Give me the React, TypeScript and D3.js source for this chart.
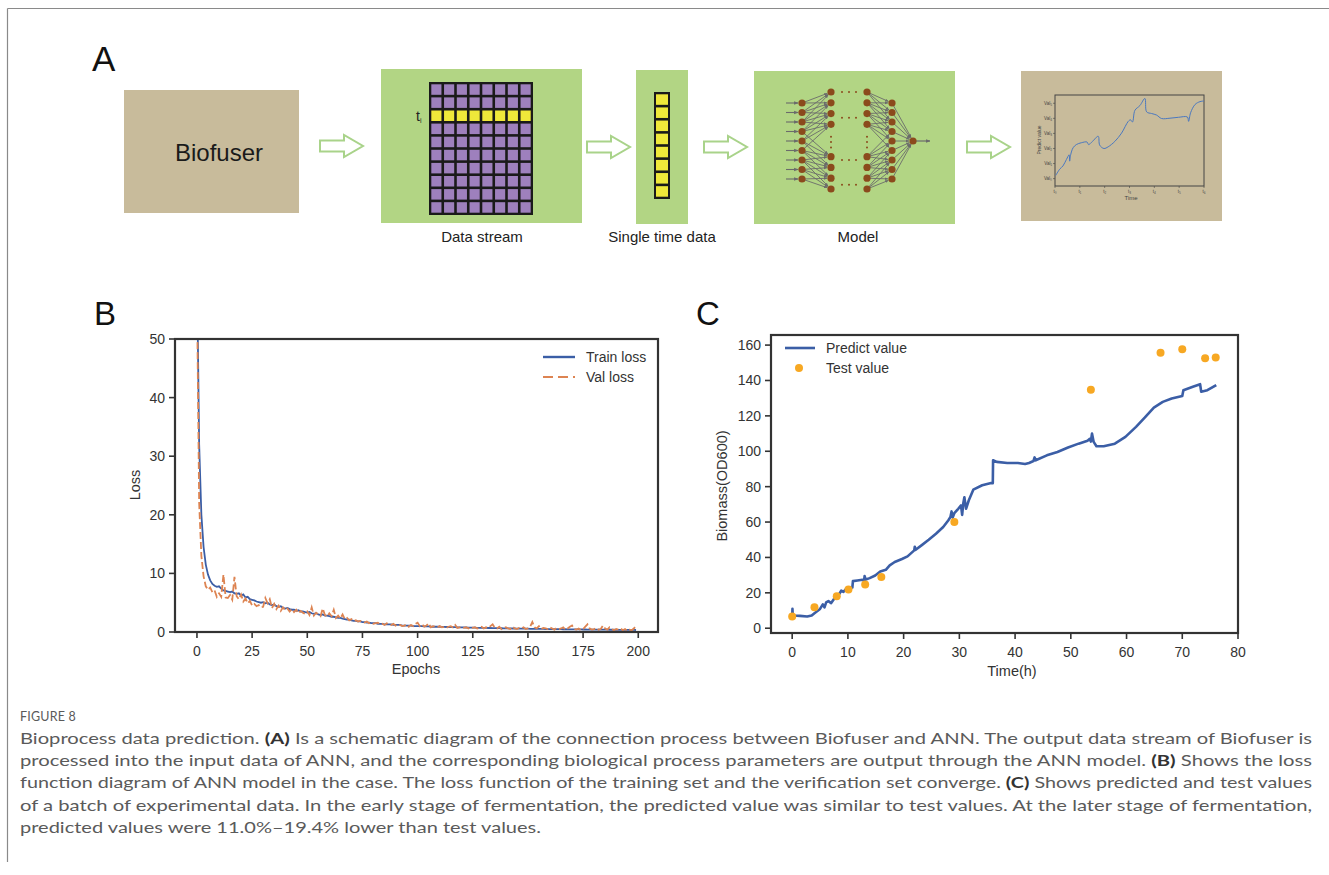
import React from "react";
import * as d3 from "d3";

// ---------- panel B : loss curves (one value per epoch) ----------
const trainLoss = [
  62, 32, 20, 14.5, 11.5, 9.8, 8.8, 8.2, 7.9, 7.7,
  7.8, 7.4, 7.1, 7.0, 6.9, 6.8, 6.9, 6.6, 6.5, 6.6,
  6.2, 6.4, 5.9, 6.0, 5.6, 5.5, 5.4, 5.2, 5.1, 5.0,
  5.1, 4.9, 5.0, 4.7, 4.6, 4.7, 4.4, 4.3, 4.4, 4.1,
  4.0, 4.1, 3.9, 3.8, 3.8, 3.6, 3.7, 3.5, 3.5, 3.4,
  3.3, 3.4, 3.2, 3.1, 3.2, 3.0, 2.9, 3.0, 2.8, 2.8,
  2.7, 2.6, 2.6, 2.5, 2.4, 2.4, 2.3, 2.2, 2.1, 2.1,
  2.0, 1.9, 1.9, 1.8, 1.8, 1.7, 1.7, 1.6, 1.6, 1.5,
  1.5, 1.5, 1.4, 1.4, 1.4, 1.3, 1.3, 1.3, 1.3, 1.2,
  1.2, 1.2, 1.2, 1.1, 1.1, 1.1, 1.1, 1.1, 1.0, 1.0,
  1.0, 1.0, 1.0, 0.95, 0.95, 0.95, 0.9, 0.9, 0.9, 0.9,
  0.9, 0.88, 0.87, 0.85, 0.85, 0.84, 0.83, 0.82, 0.8, 0.8,
  0.8, 0.78, 0.77, 0.76, 0.75, 0.75, 0.74, 0.72, 0.72, 0.7,
  0.7, 0.7, 0.68, 0.68, 0.67, 0.66, 0.66, 0.65, 0.64, 0.63,
  0.62, 0.62, 0.61, 0.6, 0.6, 0.59, 0.58, 0.58, 0.57, 0.56,
  0.56, 0.55, 0.55, 0.54, 0.54, 0.53, 0.52, 0.52, 0.51, 0.5,
  0.5, 0.5, 0.49, 0.49, 0.48, 0.48, 0.47, 0.47, 0.46, 0.46,
  0.45, 0.45, 0.45, 0.44, 0.44, 0.43, 0.43, 0.42, 0.42, 0.42,
  0.41, 0.41, 0.4, 0.4, 0.4, 0.39, 0.39, 0.38, 0.38, 0.38,
  0.37, 0.37, 0.37, 0.36, 0.36, 0.36, 0.35, 0.35, 0.35, 0.34,
];

const valLoss = [
  58, 22, 13, 9.5, 7.8, 7.2, 7.6, 6.8, 7.1, 6.0,
  6.6, 6.0, 9.8, 5.9, 5.8, 6.3, 5.5, 9.4, 6.1, 5.6,
  6.4, 5.2, 5.7, 4.9, 5.3, 4.5, 4.8, 4.4, 4.6, 4.2,
  4.3, 5.8, 4.9, 5.6, 4.1, 4.8, 3.9, 4.5, 3.6, 4.2,
  3.7, 4.0, 3.5, 3.9, 3.4, 3.8, 3.2, 3.6, 3.3, 3.1,
  3.5, 2.9, 4.2, 2.8, 3.3, 3.0, 2.7, 4.0, 2.9, 2.6,
  3.2, 2.7, 3.8, 2.4, 2.8, 2.3, 3.0, 2.2, 2.4, 2.0,
  2.2, 1.9, 2.0, 1.8, 1.9, 1.7, 1.6, 1.8, 1.5, 1.6,
  1.4, 1.5, 1.6, 1.3, 1.4, 1.2, 1.5, 1.3, 1.2, 1.4,
  1.1, 1.3, 1.2, 1.0, 1.1, 1.3, 0.9, 1.2, 1.0, 1.4,
  1.6, 1.0, 1.3, 0.9, 1.1, 1.5, 0.8, 1.0, 0.9, 0.8,
  1.0, 0.8, 0.9, 0.7, 0.9, 1.0, 0.8, 1.2, 0.7, 0.8,
  0.9, 0.7, 0.8, 0.6, 0.9, 0.7, 0.8, 0.6, 0.7, 0.9,
  0.6, 0.8, 0.7, 1.0, 1.3, 0.7, 0.6, 0.9, 0.5, 0.7,
  0.8, 0.6, 0.5, 0.9, 0.6, 0.5, 0.7, 0.6, 0.8, 0.5,
  0.6, 0.9, 1.7, 0.8, 0.6, 1.0, 0.5, 0.7, 0.6, 0.5,
  0.8, 0.6, 0.4, 0.7, 0.5, 0.6, 0.8, 0.4, 0.6, 0.9,
  1.1, 0.5, 0.4, 0.6, 0.3, 0.5, 0.9, 1.3, 0.6, 0.4,
  0.5, 0.7, 0.4, 0.5, 1.1, 0.6, 0.4, 0.8, 0.5, 0.3,
  0.5, 0.4, 0.6, 0.3, 0.5, 0.2, 0.4, 0.3, 0.6, 1.0,
];
const lossTicksX = [0, 25, 50, 75, 100, 125, 150, 175, 200];
const lossTicksY = [0, 10, 20, 30, 40, 50];

// ---------- panel C : biomass ----------
const predictTime = [
  0, 0.05, 0.12, 0.3, 1.4, 2.7, 3.5, 4.0, 5.0, 5.5, 5.8, 6.1, 6.5, 7.0, 7.5,
  8.1, 8.8, 9.2, 9.8, 10.4, 10.8, 10.9, 11.7, 12.6, 12.9, 13.0, 13.2, 13.9,
  14.9, 15.8, 16.8, 17.5, 18.4, 19.7, 20.7, 21.9, 22.0, 22.1, 23.2, 24.5,
  25.8, 27.1, 28.0, 28.4, 28.6, 28.8, 29.1, 29.8, 30.3, 30.5, 30.7, 30.9,
  31.2, 31.7, 32.5, 34.1, 35.7, 36.0, 36.05, 36.7, 38.6, 40.5, 41.8, 42.5,
  43.3, 43.5, 43.7, 45.7, 47.6, 49.5, 51.4, 53.0, 53.4, 53.6, 53.8, 54.1,
  54.6, 55.9, 57.9, 59.8, 61.7, 63.3, 64.9, 66.5, 68.1, 70.0, 70.2, 71.9,
  73.2, 73.4, 74.5, 76.1,
];
const predictValue = [
  5.0, 11.0, 5.5, 7.2, 7.0, 6.6, 7.2, 8.5, 10.9, 13.5, 11.8, 14.6, 15.3, 14.2, 16.5,
  17.5, 21.3, 20.5, 22.6, 22.8, 23.0, 26.6, 27.0, 27.4, 26.8, 29.5, 27.5, 28.3,
  29.8, 32.0, 33.0, 35.5, 37.4, 39.1, 40.6, 44.0, 46.0, 44.2, 46.8, 50.0,
  53.4, 57.2, 60.9, 62.8, 66.0, 62.5, 65.1, 67.5, 69.4, 64.0, 70.5, 74.0,
  67.5, 72.3, 78.3, 80.8, 82.1, 82.0, 94.9, 94.0, 93.4, 93.4, 92.8, 93.4,
  94.5, 96.5, 94.9, 97.7, 99.6, 102.1, 104.3, 106.0, 107.0, 105.5, 110.0, 105.3,
  102.8, 102.8, 104.3, 108.1, 113.8, 119.1, 124.7, 127.9, 129.8, 131.2, 134.5, 136.5,
  137.9, 133.6, 134.5, 137.4,
];
const testTime = [0, 4.0, 8.0, 10.1, 13.1, 16.0, 29.1, 53.6, 66.1, 70.0, 74.1, 76.0];
const testValue = [6.6, 11.9, 18.1, 21.9, 24.7, 28.9, 60.0, 134.7, 155.7, 157.7, 152.6, 153.0];
const bioTicksX = [0, 10, 20, 30, 40, 50, 60, 70, 80];
const bioTicksY = [0, 20, 40, 60, 80, 100, 120, 140, 160];

// ---------- panel A : schematic ----------
const miniTime = [
  0.03, 0.19, 0.32, 0.46, 0.57, 0.59, 0.63, 0.73, 0.86, 1.06, 1.29, 1.35, 1.51,
  1.74, 1.8, 1.97, 2.14, 2.41, 2.68, 2.95, 3.04, 3.12, 3.22, 3.42, 3.62, 3.69,
  3.89, 4.09, 4.29, 4.63, 4.97, 5.33, 5.38, 5.46, 5.64, 5.84, 6.0,
];
const miniValue = [
  0.21, 0.63, 0.84, 1.27, 1.58, 1.16, 1.58, 2.05, 2.26, 2.38, 2.43, 2.26, 2.47,
  2.81, 2.22, 2.0, 2.11, 2.47, 3.02, 3.8, 3.9, 3.76, 4.54, 4.85, 5.32, 4.43,
  4.32, 4.22, 3.99, 4.01, 4.07, 4.09, 3.8, 4.37, 4.92, 5.11, 5.15,
];
const miniTicksX = ["t₀", "t₁", "t₂", "t₃", "t₄", "t₅", "t₆"];
const miniTicksY = ["Val₀", "Val₁", "Val₂", "Val₃", "Val₄", "Val₅"];
const streamCols = 8;
const streamRows = 10;
const streamHighlightRow = 2;
const singleCells = 8;
const netLayerSizes = [9, 8, 8, 9];

const captionLines = [
  ["Bioprocess data prediction. ", "(A)", " Is a schematic diagram of the connection process between Biofuser and ANN. The output data stream of Biofuser is"],
  ["processed into the input data of ANN, and the corresponding biological process parameters are output through the ANN model. ", "(B)", " Shows the loss"],
  ["function diagram of ANN model in the case. The loss function of the training set and the verification set converge. ", "(C)", " Shows predicted and test values"],
  ["of a batch of experimental data. In the early stage of fermentation, the predicted value was similar to test values. At the later stage of fermentation,"],
  ["predicted values were 11.0%–19.4% lower than test values."],
];

const FONT = "'Liberation Sans', Arial, Helvetica, sans-serif";
const AXIS = "#333";
const BLUE = "#3b5ea6";
const ORANGE = "#dd8452";
const GOLD = "#f7a823";
const GREEN = "#b2d584";
const TAN = "#c8bb9b";

const HollowArrow = ({ x, y }: { x: number; y: number }) => {
  const p = d3.path();
  p.moveTo(x, y - 5.5);
  p.lineTo(x + 24, y - 5.5);
  p.lineTo(x + 24, y - 11);
  p.lineTo(x + 43, y);
  p.lineTo(x + 24, y + 11);
  p.lineTo(x + 24, y + 5.5);
  p.lineTo(x, y + 5.5);
  p.closePath();
  return <path d={p.toString()} fill="#fff" stroke="#a9d38a" strokeWidth={2} />;
};

const PanelA = () => {
  // data stream grid
  const gx = d3.scaleLinear().domain([0, streamCols]).range([430, 532]);
  const gy = d3.scaleLinear().domain([0, streamRows]).range([83, 214]);
  const sy = d3.scaleLinear().domain([0, singleCells]).range([93, 198]);

  // network
  const layerX = [802, 831, 867, 892];
  const y9 = d3.scaleLinear().domain([0, 8]).range([103, 179]);
  const y10 = d3.scaleLinear().domain([0, 9]).range([92, 189]);
  const slots8 = [0, 1, 2, 3, 6, 7, 8, 9];
  const layerNodes = netLayerSizes.map((n, li) =>
    n === 9
      ? d3.range(n).map((i) => ({ x: layerX[li], y: y9(i) }))
      : slots8.map((s) => ({ x: layerX[li], y: y10(s) }))
  );
  const outNode = { x: 913, y: 141 };
  const edges: { x1: number; y1: number; x2: number; y2: number }[] = [];
  const connect = (a: { x: number; y: number }[], b: { x: number; y: number }[]) => {
    a.forEach((na, i) => {
      b.forEach((nb, j) => {
        const ra = i / (a.length - 1);
        const rb = j / (b.length - 1);
        if (Math.abs(ra - rb) <= 0.27) edges.push({ x1: na.x, y1: na.y, x2: nb.x, y2: nb.y });
      });
    });
  };
  connect(layerNodes[0], layerNodes[1]);
  connect(layerNodes[2], layerNodes[3]);
  layerNodes[3].forEach((n) => edges.push({ x1: n.x, y1: n.y, x2: outNode.x, y2: outNode.y }));

  // mini plot
  const mx = d3.scaleLinear().domain([0, 6]).range([1055, 1204]);
  const my = d3.scaleLinear().domain([-0.49, 5.55]).range([186, 95]);
  const miniLine = d3
    .line<number>()
    .x((_, i) => mx(miniTime[i]))
    .y((v) => my(v))
    .curve(d3.curveCatmullRom);

  const shorten = (e: { x1: number; y1: number; x2: number; y2: number }) => {
    const dx = e.x2 - e.x1;
    const dy = e.y2 - e.y1;
    const L = Math.hypot(dx, dy);
    const k = (L - 4) / L;
    return { x1: e.x1, y1: e.y1, x2: e.x1 + dx * k, y2: e.y1 + dy * k };
  };

  return (
    <g>
      <defs>
        <marker id="ah" viewBox="0 0 10 10" refX="9" refY="5" markerWidth="4" markerHeight="4" orient="auto">
          <path d="M0,1 L10,5 L0,9 z" fill="#6b6b6b" />
        </marker>
      </defs>
      <text x={92} y={71} fontSize={35} fontFamily={FONT} fill="#111">A</text>

      {/* Biofuser */}
      <rect x={124} y={90} width={175} height={123} fill={TAN} />
      <text x={219} y={161} fontSize={24} fontFamily={FONT} fill="#1a1a1a" textAnchor="middle">Biofuser</text>
      <HollowArrow x={320} y={146} />

      {/* data stream */}
      <rect x={381} y={69} width={201} height={154} fill={GREEN} />
      <rect x={gx(0) - 1} y={gy(0) - 1} width={gx(streamCols) - gx(0) + 2} height={gy(streamRows) - gy(0) + 2} fill="#1a1a1a" />
      {d3.range(streamRows).map((r) =>
        d3.range(streamCols).map((c) => (
          <rect
            key={`${r}-${c}`}
            x={gx(c) + 1.3}
            y={gy(r) + 1.3}
            width={gx(1) - gx(0) - 2.6}
            height={gy(1) - gy(0) - 2.6}
            fill={r === streamHighlightRow ? "#efe83a" : "#9e80bd"}
          />
        ))
      )}
      <text x={416} y={121} fontSize={14} fontFamily={FONT} fill="#222">
        t<tspan fontSize={7} dy={2}>i</tspan>
      </text>
      <text x={482} y={242} fontSize={15} fontFamily={FONT} fill="#222" textAnchor="middle">Data stream</text>
      <HollowArrow x={587} y={147} />

      {/* single time data */}
      <rect x={636} y={70} width={52} height={154} fill={GREEN} />
      <rect x={654} y={sy(0) - 1} width={16} height={sy(singleCells) - sy(0) + 2} fill="#1a1a1a" />
      {d3.range(singleCells).map((i) => (
        <rect key={i} x={656} y={sy(i) + 1.3} width={12} height={sy(1) - sy(0) - 2.6} fill="#efe83a" />
      ))}
      <text x={662} y={242} fontSize={15} fontFamily={FONT} fill="#222" textAnchor="middle">Single time data</text>
      <HollowArrow x={704} y={147} />

      {/* model */}
      <rect x={754} y={71} width={201} height={153} fill={GREEN} />
      {layerNodes[0].map((n, i) => (
        <line key={`in${i}`} x1={n.x - 16} y1={n.y} x2={n.x - 4} y2={n.y} stroke="#6b6b6b" strokeWidth={1.1} markerEnd="url(#ah)" />
      ))}
      {edges.map((e, i) => {
        const s = shorten(e);
        return <line key={`e${i}`} {...s} stroke="#6b6b6b" strokeWidth={0.9} markerEnd="url(#ah)" />;
      })}
      <line x1={outNode.x + 3} y1={outNode.y} x2={outNode.x + 17} y2={outNode.y} stroke="#6b6b6b" strokeWidth={1.2} markerEnd="url(#ah)" />
      {layerNodes.flat().map((n, i) => (
        <circle key={`n${i}`} cx={n.x} cy={n.y} r={3.6} fill="#8b4a1c" />
      ))}
      <circle cx={outNode.x} cy={outNode.y} r={3.6} fill="#8b4a1c" />
      {[0, 2.4, 6.3, 8.6].map((s) =>
        [842, 849, 856].map((x) => <circle key={`h${s}-${x}`} cx={x} cy={y10(s)} r={1} fill="#8b4a1c" />)
      )}
      {[831, 867].map((x) =>
        [4.1, 4.6, 5.1].map((s) => <circle key={`v${x}-${s}`} cx={x} cy={y10(s) + 0.5} r={1} fill="#8b4a1c" />)
      )}
      <text x={858} y={242} fontSize={15} fontFamily={FONT} fill="#222" textAnchor="middle">Model</text>
      <HollowArrow x={967} y={147} />

      {/* output plot thumbnail */}
      <rect x={1021} y={71} width={201} height={150} fill={TAN} />
      <rect x={1055} y={95} width={149} height={91} fill="none" stroke="#444" strokeWidth={1} />
      {miniTicksY.map((t, i) => (
        <g key={t}>
          <line x1={1053} x2={1055} y1={my(i)} y2={my(i)} stroke="#444" strokeWidth={0.6} />
          <text x={1052} y={my(i) + 1.5} fontSize={4.5} fontFamily={FONT} fill="#444" textAnchor="end">{t}</text>
        </g>
      ))}
      {miniTicksX.map((t, i) => (
        <g key={t}>
          <line x1={mx(i)} x2={mx(i)} y1={186} y2={188} stroke="#444" strokeWidth={0.6} />
          <text x={mx(i)} y={193} fontSize={4.5} fontFamily={FONT} fill="#444" textAnchor="middle">{t}</text>
        </g>
      ))}
      <text x={1131} y={200} fontSize={6} fontFamily={FONT} fill="#444" textAnchor="middle">Time</text>
      <text transform="translate(1041,140) rotate(-90)" fontSize={5} fontFamily={FONT} fill="#444" textAnchor="middle">Predict value</text>
      <path d={miniLine(miniValue) || ""} fill="none" stroke="#4a78c0" strokeWidth={1} />
    </g>
  );
};

const PanelB = () => {
  const x = d3.scaleLinear().domain([-9.95, 208.95]).range([175, 658]);
  const y = d3.scaleLinear().domain([0, 50]).range([632, 339]);
  const line = d3
    .line<number>()
    .x((_, i) => x(i))
    .y((v) => y(v));
  return (
    <g fontFamily={FONT}>
      <defs>
        <clipPath id="clipB">
          <rect x={175} y={339} width={483} height={293} />
        </clipPath>
      </defs>
      <text x={94} y={325} fontSize={33} fill="#111">B</text>
      <g clipPath="url(#clipB)">
        <path d={line(trainLoss) || ""} fill="none" stroke={BLUE} strokeWidth={1.8} />
        <path d={line(valLoss) || ""} fill="none" stroke={ORANGE} strokeWidth={1.8} strokeDasharray="7,3" />
      </g>
      <rect x={175} y={339} width={483} height={293} fill="none" stroke={AXIS} strokeWidth={2.2} />
      {lossTicksX.map((t) => (
        <g key={t}>
          <line x1={x(t)} x2={x(t)} y1={632} y2={638} stroke={AXIS} strokeWidth={1.6} />
          <text x={x(t)} y={656} fontSize={14} fill={AXIS} textAnchor="middle">{t}</text>
        </g>
      ))}
      {lossTicksY.map((t) => (
        <g key={t}>
          <line x1={169} x2={175} y1={y(t)} y2={y(t)} stroke={AXIS} strokeWidth={1.6} />
          <text x={165} y={y(t) + 5} fontSize={14} fill={AXIS} textAnchor="end">{t}</text>
        </g>
      ))}
      <text x={416} y={674} fontSize={14.5} fill={AXIS} textAnchor="middle">Epochs</text>
      <text transform="translate(140,485) rotate(-90)" fontSize={14.5} fill={AXIS} textAnchor="middle">Loss</text>
      <line x1={543} x2={575} y1={357} y2={357} stroke={BLUE} strokeWidth={2.4} />
      <text x={586} y={362} fontSize={14} fill={AXIS}>Train loss</text>
      <line x1={543} x2={575} y1={377} y2={377} stroke={ORANGE} strokeWidth={2} strokeDasharray="10,5" />
      <text x={586} y={382} fontSize={14} fill={AXIS}>Val loss</text>
    </g>
  );
};

const PanelC = () => {
  const x = d3.scaleLinear().domain([-3.8, 80]).range([771, 1238]);
  const y = d3.scaleLinear().domain([-2.7, 165.7]).range([633, 335]);
  const line = d3
    .line<number>()
    .x((_, i) => x(predictTime[i]))
    .y((v) => y(v));
  return (
    <g fontFamily={FONT}>
      <text x={696} y={325} fontSize={33} fill="#111">C</text>
      <path d={line(predictValue) || ""} fill="none" stroke={BLUE} strokeWidth={2.6} strokeLinejoin="round" />
      {testTime.map((t, i) => (
        <circle key={i} cx={x(t)} cy={y(testValue[i])} r={4} fill={GOLD} />
      ))}
      <rect x={771} y={335} width={467} height={298} fill="none" stroke={AXIS} strokeWidth={2.2} />
      {bioTicksX.map((t) => (
        <g key={t}>
          <line x1={x(t)} x2={x(t)} y1={633} y2={639} stroke={AXIS} strokeWidth={1.6} />
          <text x={x(t)} y={657} fontSize={14} fill={AXIS} textAnchor="middle">{t}</text>
        </g>
      ))}
      {bioTicksY.map((t) => (
        <g key={t}>
          <line x1={765} x2={771} y1={y(t)} y2={y(t)} stroke={AXIS} strokeWidth={1.6} />
          <text x={761} y={y(t) + 5} fontSize={14} fill={AXIS} textAnchor="end">{t}</text>
        </g>
      ))}
      <text x={1012} y={676} fontSize={14.5} fill={AXIS} textAnchor="middle">Time(h)</text>
      <text transform="translate(727,486) rotate(-90)" fontSize={14.5} fill={AXIS} textAnchor="middle">Biomass(OD600)</text>
      <line x1={785} x2={815} y1={348} y2={348} stroke={BLUE} strokeWidth={2.6} />
      <text x={826} y={353} fontSize={14} fill={AXIS}>Predict value</text>
      <circle cx={799} cy={368} r={4} fill={GOLD} />
      <text x={826} y={373} fontSize={14} fill={AXIS}>Test value</text>
    </g>
  );
};

const Caption = () => {
  const CAP = "Lato, 'Open Sans', sans-serif";
  return (
    <g fontFamily={CAP} fill="#5a5a5a">
      <text x={20} y={721} fontSize={12.5} letterSpacing={0.2}>FIGURE 8</text>
      {captionLines.map((parts, i) => {
        const last = i === captionLines.length - 1;
        return (
          <text
            key={i}
            x={20}
            y={744 + i * 22.2}
            fontSize={16}
            textLength={last ? 521 : 1292}
            lengthAdjust="spacingAndGlyphs"
          >
            {parts.map((p, j) => (
              <tspan key={j} fontWeight={p.startsWith("(") && p.length === 3 ? 700 : 400} fill={p.startsWith("(") && p.length === 3 ? "#333" : "#5a5a5a"}>
                {p}
              </tspan>
            ))}
          </text>
        );
      })}
    </g>
  );
};

export default function App() {
  return (
    <svg
      width={1329}
      height={875}
      style={{ position: "absolute", left: 0, top: 0, background: "#fff" }}
    >
      <line x1={7.5} y1={8.5} x2={1329} y2={8.5} stroke="#8a8a8a" strokeWidth={1.2} />
      <line x1={7.5} y1={8.5} x2={7.5} y2={862} stroke="#8a8a8a" strokeWidth={1.2} />
      <PanelA />
      <PanelB />
      <PanelC />
      <Caption />
    </svg>
  );
}
